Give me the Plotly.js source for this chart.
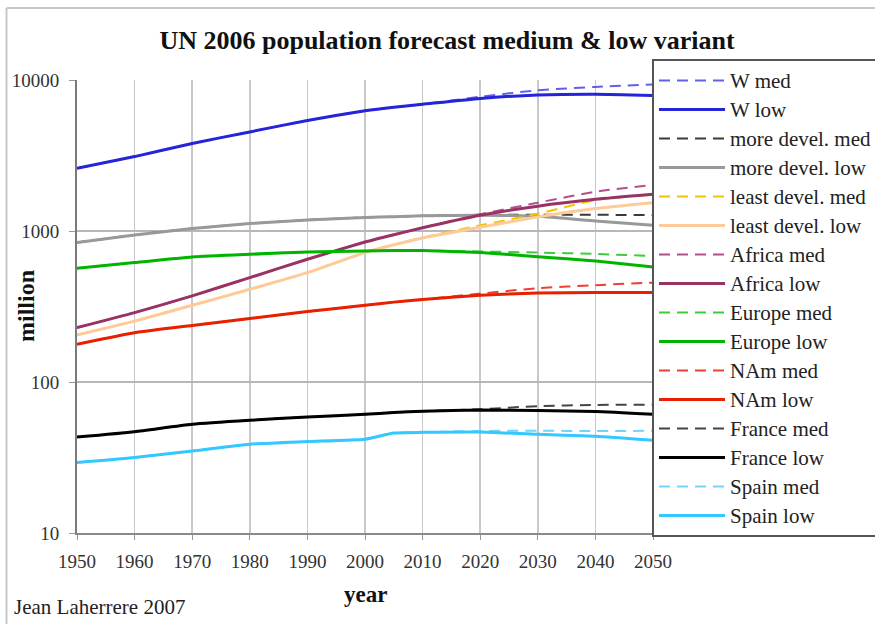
<!DOCTYPE html>
<html>
<head>
<meta charset="utf-8">
<script src="https://cdn.plot.ly/plotly-3.0.1.min.js"></script>
<style>html,body{margin:0;padding:0;background:#fff;}#chart{width:875px;height:624px;}</style>
</head>
<body>
<div id="chart"></div>
<script>
// Years (million people, UN 2006 revision, medium & low variants)
const years = [1950, 1960, 1970, 1980, 1990, 2000, 2005, 2010, 2020, 2030, 2040, 2050];

const wMed      = [2600, 3110, 3800, 4530, 5400, 6250, 6600, 6900, 7750, 8550, 9000, 9350];
const wLow      = [2600, 3110, 3800, 4530, 5400, 6250, 6600, 6900, 7550, 7950, 8050, 7900];
const moreMed   = [838, 942, 1038, 1120, 1183, 1230, 1245, 1260, 1280, 1280, 1280, 1275];
const moreLow   = [838, 942, 1038, 1120, 1183, 1230, 1245, 1260, 1270, 1250, 1165, 1090];
const leastMed  = [205, 253, 322, 411, 530, 720, 810, 905, 1090, 1300, 1600, 1750];
const leastLow  = [205, 253, 322, 411, 530, 720, 810, 900, 1060, 1240, 1410, 1540];
const africaMed = [229, 288, 372, 491, 650, 845, 945, 1050, 1290, 1540, 1820, 2020];
const africaLow = [229, 288, 372, 491, 650, 845, 945, 1050, 1270, 1460, 1620, 1750];
const europeMed = [566, 618, 673, 701, 726, 738, 742, 742, 732, 720, 705, 683];
const europeLow = [566, 618, 673, 701, 726, 738, 742, 742, 720, 676, 633, 578];
const namMed    = [178, 212, 237, 263, 293, 322, 338, 352, 385, 418, 438, 455];
const namLow    = [178, 212, 237, 263, 293, 322, 338, 352, 375, 388, 391, 391];
const franceMed = [43.2, 46.9, 52.5, 55.8, 58.6, 61.1, 62.8, 64.0, 66.0, 69.2, 70.5, 70.8];
const franceLow = [43.2, 46.9, 52.5, 55.8, 58.6, 61.1, 62.8, 64.0, 65.2, 64.7, 63.7, 61.1];
const spainMed  = [29.3, 31.6, 34.9, 38.7, 40.3, 41.8, 45.9, 46.4, 47.4, 47.5, 47.4, 47.5];
const spainLow  = [29.3, 31.6, 34.9, 38.7, 40.3, 41.8, 45.9, 46.4, 46.6, 45.0, 43.8, 41.2];

const seriesNames = ["W med", "W low", "more devel. med", "more devel. low",
  "least devel. med", "least devel. low", "Africa med", "Africa low",
  "Europe med", "Europe low", "NAm med", "NAm low",
  "France med", "France low", "Spain med", "Spain low"];
const seriesValues = [wMed, wLow, moreMed, moreLow, leastMed, leastLow, africaMed, africaLow,
  europeMed, europeLow, namMed, namLow, franceMed, franceLow, spainMed, spainLow];
const seriesColors = ["#6060ec", "#2424d8", "#3a3a3a", "#999999",
  "#f2c400", "#fdca98", "#b3508c", "#993366",
  "#3ccc3c", "#00b400", "#ee4030", "#e82000",
  "#444444", "#000000", "#70d4ff", "#33c8ff"];

const traces = seriesNames.map((name, i) => {
  const isMed = name.endsWith("med");
  return {
    type: "scatter",
    mode: "lines",
    name: '<span style="font-size:21px">' + name + '</span>',
    x: years,
    y: seriesValues[i],
    line: {
      color: seriesColors[i],
      width: isMed ? 2 : 3,
      dash: isMed ? "11px,7px" : "solid",
      shape: "spline",
      smoothing: 0.5
    },
    hoverinfo: "skip"
  };
});

const serif = "Liberation Serif";
const W = 576, H = 453, L = 77, T = 80;
const px = v => (v - L) / W;
const py = v => 1 - (v - T) / H;

const layout = {
  width: 875,
  height: 624,
  margin: {l: L, r: 875 - L - W, t: T, b: 624 - T - H, autoexpand: false},
  paper_bgcolor: "#ffffff",
  plot_bgcolor: "#ffffff",
  font: {family: serif, color: "#222222", size: 19},
  title: {
    text: "<b>UN 2006 population forecast medium &amp; low variant</b>",
    font: {family: serif, size: 26, color: "#111111"},
    x: 447 / 875, xref: "container", xanchor: "center",
    y: 1 - 40 / 624, yref: "container", yanchor: "middle"
  },
  xaxis: {
    range: [1950, 2050],
    tickvals: [1950, 1960, 1970, 1980, 1990, 2000, 2010, 2020, 2030, 2040, 2050],
    ticktext: ["1950", "1960", "1970", "1980", "1990", "2000", "2010", "2020", "2030", "2040", "2050"],
    showgrid: true, gridcolor: "#c8c8c8", gridwidth: 1.5,
    showline: true, linecolor: "#8a8a8a", linewidth: 2,
    ticks: "outside", ticklen: 5, tickcolor: "#999999",
    ticklabelstandoff: 5,
    tickfont: {family: serif, size: 19, color: "#333333"},
    zeroline: false
  },
  yaxis: {
    type: "log",
    range: [1, 4],
    tickvals: [10, 100, 1000, 10000],
    ticktext: ["10", "100", "1000", "10000"],
    showgrid: true, gridcolor: "#b8b8b8", gridwidth: 2,
    showline: true, linecolor: "#7a7a7a", linewidth: 2,
    ticks: "outside", ticklen: 6, tickcolor: "#999999",
    ticklabelstandoff: 6,
    tickfont: {family: serif, size: 19, color: "#333333"},
    zeroline: false
  },
  showlegend: true,
  legend: {
    x: px(652), xref: "paper", xanchor: "left",
    y: py(59), yref: "paper", yanchor: "top",
    bgcolor: "#ffffff",
    bordercolor: "#555555", borderwidth: 2,
    font: {family: serif, size: 20, color: "#222222"},
    itemwidth: 66,
    maxheight: 600,
    traceorder: "normal"
  },
  shapes: [
    {type: "line", xref: "paper", yref: "paper", x0: px(6.5), x1: px(6.5), y0: py(8), y1: py(624),
     line: {color: "#c8c8c8", width: 2}},
    {type: "line", xref: "paper", yref: "paper", x0: px(6.5), x1: px(875), y0: py(8), y1: py(8),
     line: {color: "#c8c8c8", width: 2}}
  ],
  annotations: [
    {text: "<b>million</b>", xref: "paper", yref: "paper", x: px(26), y: py(306),
     xanchor: "center", yanchor: "middle", textangle: -90, showarrow: false,
     font: {family: serif, size: 24, color: "#111111"}},
    {text: "<b>year</b>", xref: "paper", yref: "paper", x: px(365), y: py(594),
     xanchor: "center", yanchor: "middle", showarrow: false,
     font: {family: serif, size: 23, color: "#111111"}},
    {text: "Jean Laherrere 2007", xref: "paper", yref: "paper", x: px(12), y: py(607),
     xanchor: "left", yanchor: "middle", showarrow: false,
     font: {family: serif, size: 21, color: "#222222"}}
  ]
};

Plotly.newPlot("chart", traces, layout, {displayModeBar: false, staticPlot: true});
</script>
</body>
</html>
